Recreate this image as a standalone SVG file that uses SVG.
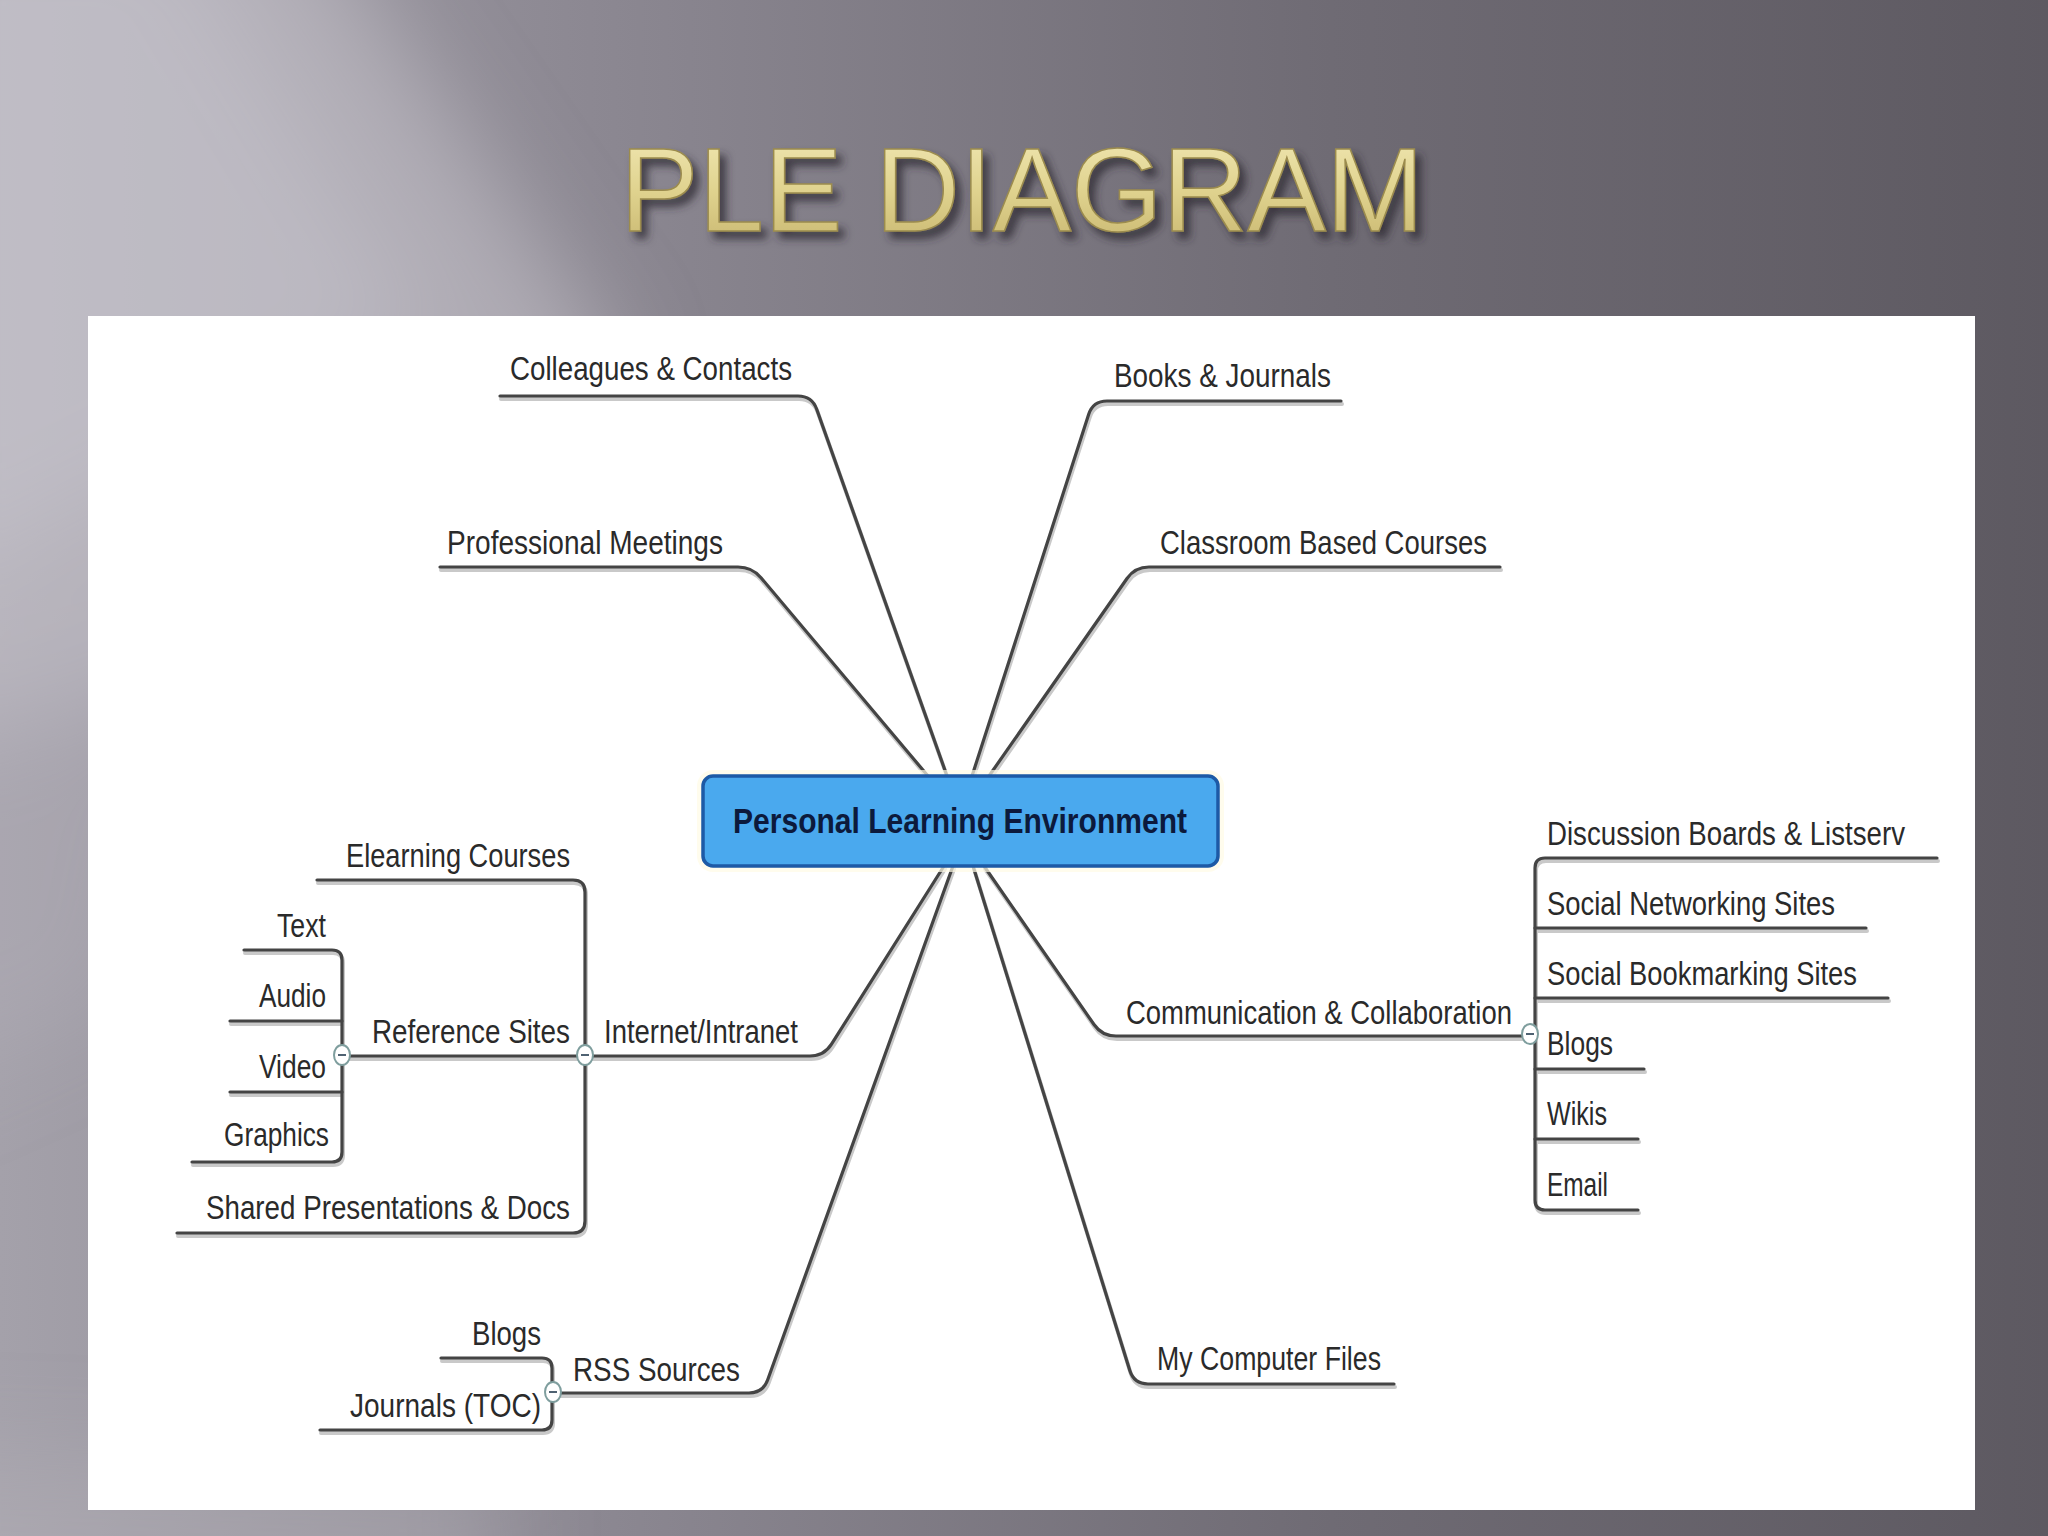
<svg xmlns="http://www.w3.org/2000/svg" width="2048" height="1536" viewBox="0 0 2048 1536">
<defs>
<linearGradient id="bg" x1="0" y1="0" x2="1" y2="0">
<stop offset="0" stop-color="#a4a1aa"/>
<stop offset="0.3" stop-color="#8b8791"/>
<stop offset="0.65" stop-color="#6f6b74"/>
<stop offset="1" stop-color="#5d5961"/>
</linearGradient>
<linearGradient id="gold" x1="0" y1="0" x2="0" y2="1">
<stop offset="0" stop-color="#f2e9b6"/>
<stop offset="0.5" stop-color="#e0d38f"/>
<stop offset="1" stop-color="#c6b46c"/>
</linearGradient>
<filter id="soft" x="-50%" y="-50%" width="200%" height="200%">
<feGaussianBlur stdDeviation="45"/>
</filter>
<filter id="tshadow" x="-10%" y="-30%" width="120%" height="160%">
<feGaussianBlur in="SourceAlpha" stdDeviation="4" result="b"/>
<feOffset in="b" dx="6" dy="7" result="o"/>
<feFlood flood-color="#2e2a33" flood-opacity="0.8"/>
<feComposite in2="o" operator="in" result="s"/>
<feMerge><feMergeNode in="s"/><feMergeNode in="SourceGraphic"/></feMerge>
</filter>
<style>
.ln{fill:none;stroke:#444444;stroke-width:3.2;stroke-linecap:round;stroke-linejoin:round}
.sh{fill:none;stroke:#c9c9c9;stroke-width:4;stroke-linecap:round;stroke-linejoin:round}
.lb{font-family:"Liberation Sans",Arial,sans-serif;font-size:33px;fill:#2a2a2a}
.hub{fill:#ffffff;stroke:#7f9e9e;stroke-width:2}
.hm{stroke:#4f6272;stroke-width:2}
</style>
</defs>

<!-- background -->
<rect x="0" y="0" width="2048" height="1536" fill="url(#bg)"/>
<g filter="url(#soft)">
<polygon points="-100,-100 300,-100 620,360 560,560 -100,760" fill="#c8c5cc" fill-opacity="0.55"/>
<polygon points="-100,-100 160,-100 420,330 -100,600" fill="#cfccd3" fill-opacity="0.35"/>
<polygon points="-100,700 200,600 120,1000 -100,1100" fill="#b4b1b9" fill-opacity="0.35"/>
<polygon points="-100,1450 500,1470 500,1700 -100,1700" fill="#b4b1b9" fill-opacity="0.4"/>
</g>

<!-- title -->
<g id="title">
<text x="1022" y="231" text-anchor="middle" textLength="804" lengthAdjust="spacingAndGlyphs" font-family="Liberation Sans, Arial, sans-serif" font-size="118" fill="url(#gold)" stroke="#9c8c4e" stroke-width="1.5" filter="url(#tshadow)">PLE DIAGRAM</text>
</g>

<!-- panel -->
<rect x="88" y="316" width="1887" height="1194" fill="#ffffff"/>

<!-- connectors -->
<g id="connectors">
<g transform="translate(1,3)">
<path class="sh" d="M500,396 H798 Q812,396 816.7,409.2 L947,776"/>
<path class="sh" d="M1341,401 H1107 Q1093,401 1088.7,414.3 L972,776"/>
<path class="sh" d="M440,567 H738 Q752,567 761,577.7 L928,776"/>
<path class="sh" d="M1500,567 H1149 Q1135,567 1127,578.5 L989,776"/>
<path class="sh" d="M583,1056 H810 Q824,1056 831.5,1044.2 L944,866"/>
<path class="sh" d="M1529,1036 H1116 Q1102,1036 1094,1024.5 L984,866"/>
<path class="sh" d="M554,1393 H749 Q763,1393 767.7,1379.8 L953,866"/>
<path class="sh" d="M1394,1384 H1148 Q1134,1384 1129.8,1370.6 L973,866"/>
<path class="sh" d="M317,880 H573 Q585,880 585,892 V1221 Q585,1233 573,1233 H177"/>
<path class="sh" d="M342,1056 H585"/>
<path class="sh" d="M244,950 H332 Q342,950 342,960 V1152 Q342,1162 332,1162 H192"/>
<path class="sh" d="M230,1021 H342 M230,1092 H342"/>
<path class="sh" d="M1937,858 H1545 Q1535,858 1535,868 V1200 Q1535,1210 1545,1210 H1638"/>
<path class="sh" d="M1535,928 H1866 M1535,998 H1888 M1535,1069 H1644 M1535,1139 H1638"/>
<path class="sh" d="M441,1358 H542 Q552,1358 552,1368 V1420 Q552,1430 542,1430 H320"/>
</g>
<path class="ln" d="M500,396 H798 Q812,396 816.7,409.2 L947,776"/>
<path class="ln" d="M1341,401 H1107 Q1093,401 1088.7,414.3 L972,776"/>
<path class="ln" d="M440,567 H738 Q752,567 761,577.7 L928,776"/>
<path class="ln" d="M1500,567 H1149 Q1135,567 1127,578.5 L989,776"/>
<path class="ln" d="M583,1056 H810 Q824,1056 831.5,1044.2 L944,866"/>
<path class="ln" d="M1529,1036 H1116 Q1102,1036 1094,1024.5 L984,866"/>
<path class="ln" d="M554,1393 H749 Q763,1393 767.7,1379.8 L953,866"/>
<path class="ln" d="M1394,1384 H1148 Q1134,1384 1129.8,1370.6 L973,866"/>
<path class="ln" d="M317,880 H573 Q585,880 585,892 V1221 Q585,1233 573,1233 H177"/>
<path class="ln" d="M342,1056 H585"/>
<path class="ln" d="M244,950 H332 Q342,950 342,960 V1152 Q342,1162 332,1162 H192"/>
<path class="ln" d="M230,1021 H342 M230,1092 H342"/>
<path class="ln" d="M1937,858 H1545 Q1535,858 1535,868 V1200 Q1535,1210 1545,1210 H1638"/>
<path class="ln" d="M1535,928 H1866 M1535,998 H1888 M1535,1069 H1644 M1535,1139 H1638"/>
<path class="ln" d="M441,1358 H542 Q552,1358 552,1368 V1420 Q552,1430 542,1430 H320"/>
</g>

<!-- central node -->
<g id="node-ple">
<rect x="697" y="770" width="527" height="102" rx="16" fill="#fffbe6" fill-opacity="0.7"/>
<rect x="703" y="776" width="515" height="90" rx="10" fill="#4aa9ee" stroke="#1d5aa6" stroke-width="3.5"/>
<text x="960" y="833" text-anchor="middle" textLength="454" lengthAdjust="spacingAndGlyphs" font-family="Liberation Sans, Arial, sans-serif" font-size="35" font-weight="bold" fill="#0c1a3c">Personal Learning Environment</text>
</g>

<g id="node-colleagues"><text class="lb" x="510" y="380" textLength="282" lengthAdjust="spacingAndGlyphs">Colleagues &amp; Contacts</text></g>
<g id="node-books"><text class="lb" x="1114" y="387" textLength="217" lengthAdjust="spacingAndGlyphs">Books &amp; Journals</text></g>
<g id="node-professional"><text class="lb" x="447" y="554" textLength="276" lengthAdjust="spacingAndGlyphs">Professional Meetings</text></g>
<g id="node-classroom"><text class="lb" x="1160" y="554" textLength="327" lengthAdjust="spacingAndGlyphs">Classroom Based Courses</text></g>

<g id="node-internet"><text class="lb" x="604" y="1043" textLength="194" lengthAdjust="spacingAndGlyphs">Internet/Intranet</text></g>
<g id="node-elearning"><text class="lb" x="346" y="867" textLength="224" lengthAdjust="spacingAndGlyphs">Elearning Courses</text></g>
<g id="node-reference"><text class="lb" x="372" y="1043" textLength="198" lengthAdjust="spacingAndGlyphs">Reference Sites</text></g>
<g id="node-shared"><text class="lb" x="206" y="1219" textLength="364" lengthAdjust="spacingAndGlyphs">Shared Presentations &amp; Docs</text></g>
<g id="node-text"><text class="lb" x="277" y="937" textLength="49" lengthAdjust="spacingAndGlyphs">Text</text></g>
<g id="node-audio"><text class="lb" x="259" y="1007" textLength="67" lengthAdjust="spacingAndGlyphs">Audio</text></g>
<g id="node-video"><text class="lb" x="259" y="1078" textLength="67" lengthAdjust="spacingAndGlyphs">Video</text></g>
<g id="node-graphics"><text class="lb" x="224" y="1146" textLength="105" lengthAdjust="spacingAndGlyphs">Graphics</text></g>

<g id="node-communication"><text class="lb" x="1126" y="1024" textLength="386" lengthAdjust="spacingAndGlyphs">Communication &amp; Collaboration</text></g>
<g id="node-discussion"><text class="lb" x="1547" y="845" textLength="358" lengthAdjust="spacingAndGlyphs">Discussion Boards &amp; Listserv</text></g>
<g id="node-socialnet"><text class="lb" x="1547" y="915" textLength="288" lengthAdjust="spacingAndGlyphs">Social Networking Sites</text></g>
<g id="node-socialbook"><text class="lb" x="1547" y="985" textLength="310" lengthAdjust="spacingAndGlyphs">Social Bookmarking Sites</text></g>
<g id="node-blogs"><text class="lb" x="1547" y="1055" textLength="66" lengthAdjust="spacingAndGlyphs">Blogs</text></g>
<g id="node-wikis"><text class="lb" x="1547" y="1125" textLength="60" lengthAdjust="spacingAndGlyphs">Wikis</text></g>
<g id="node-email"><text class="lb" x="1547" y="1196" textLength="61" lengthAdjust="spacingAndGlyphs">Email</text></g>

<g id="node-rss"><text class="lb" x="573" y="1381" textLength="167" lengthAdjust="spacingAndGlyphs">RSS Sources</text></g>
<g id="node-rss-blogs"><text class="lb" x="472" y="1345" textLength="69" lengthAdjust="spacingAndGlyphs">Blogs</text></g>
<g id="node-journals"><text class="lb" x="350" y="1417" textLength="191" lengthAdjust="spacingAndGlyphs">Journals (TOC)</text></g>
<g id="node-mycomputer"><text class="lb" x="1157" y="1370" textLength="224" lengthAdjust="spacingAndGlyphs">My Computer Files</text></g>

<!-- collapse hubs -->
<g id="hubs">
<g><ellipse class="hub" cx="585" cy="1055" rx="8" ry="10"/><line class="hm" x1="581" y1="1055" x2="589" y2="1055"/></g>
<g><ellipse class="hub" cx="342" cy="1055" rx="8" ry="10"/><line class="hm" x1="338" y1="1055" x2="346" y2="1055"/></g>
<g><ellipse class="hub" cx="1530" cy="1034" rx="8" ry="10"/><line class="hm" x1="1526" y1="1034" x2="1534" y2="1034"/></g>
<g><ellipse class="hub" cx="553" cy="1392" rx="8" ry="10"/><line class="hm" x1="549" y1="1392" x2="557" y2="1392"/></g>
</g>
</svg>
